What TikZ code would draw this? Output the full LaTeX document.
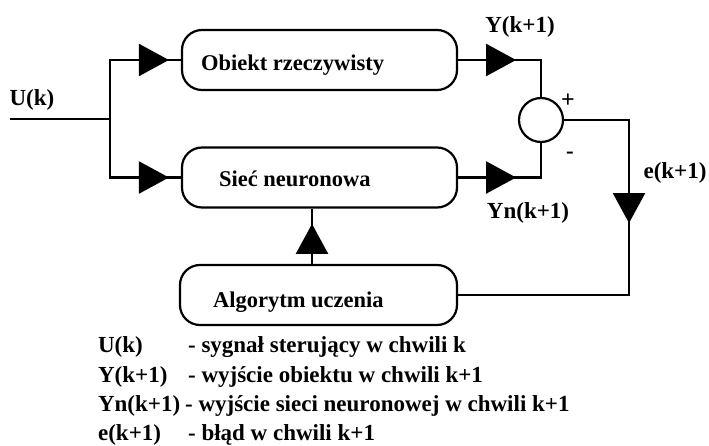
\documentclass[tikz,border=0pt]{standalone}
\usepackage{fontspec}
\setmainfont{Liberation Serif}
\usetikzlibrary{arrows.meta,decorations.markings}

\begin{document}
\begin{tikzpicture}[%
        x=1pt, y=-1pt,
        line width=2.2pt,
        font=\bfseries\fontsize{23}{26}\selectfont,
        blok/.style={draw, rounded corners=20pt, minimum height=60pt, inner sep=0pt},
        suma/.style={draw, circle, minimum size=44pt, inner sep=0pt},
        opis/.style={inner sep=0pt},
        tekst/.style={inner sep=0pt, anchor=base west, font=\bfseries\fontsize{22.5}{26}\selectfont},
        znak/.style={inner sep=0pt, font=\bfseries\fontsize{24}{28}\selectfont},
        strz/.style={postaction={decorate},
            decoration={markings, mark=at position #1 with {\arrow{Triangle[length=30pt,width=32pt]}}}}
        ]

        \useasboundingbox (0,0) rectangle (709,446);

        \node[blok, minimum width=275pt] (obiekt) at (319.5,60) {};
        \node[blok, minimum width=275pt] (siec) at (319.5,177.5) {};
        \node[blok, minimum width=277pt] (algorytm) at (318.5,295) {};
        \node[suma] (suma) at (541,120) {};

        \node[tekst] (tobiekt) at (200,71) {Obiekt rzeczywisty};
        \node[tekst] (tsiec) at (218,187) {Sieć neuronowa};
        \node[tekst] (talgorytm) at (212,307) {Algorytm uczenia};

        \coordinate (wej) at (10,119);
        \coordinate (rozg) at (110,119);
        \coordinate (wyj) at (629,120);

        \draw (wej) -- (rozg);
        \draw[strz=-12pt] (rozg) |- (obiekt.west);
        \draw[strz=-12pt] (rozg) |- (siec.west);
        \draw[strz=58pt] (obiekt.east) -| (suma.north);
        \draw[strz=58pt] (siec.east) -| (suma.south);
        \draw[strz=168pt] (suma.east) -- (wyj) |- (algorytm.east);
        \draw[strz=40pt] ([xshift=-6.5pt]algorytm.north) -- ([xshift=-6.5pt]algorytm.north |- siec.south);

        \node[opis] (uk) at (32,100) {U(k)};
        \node[opis] (yk) at (520,27) {Y(k+1)};
        \node[opis] (ynk) at (528,213) {Yn(k+1)};
        \node[opis] (ek) at (675,173) {e(k+1)};
        \node[znak] (plus) at (568,101) {+};
        \node[opis] (minus) at (570,155) {-};

        \node[opis, anchor=base west] (l1) at (97,352) {U(k)};
        \node[opis, anchor=base west] (o1) at (187,352) {- sygnał sterujący w chwili k};
        \node[opis, anchor=base west] (l2) at (97,382) {Y(k+1)};
        \node[opis, anchor=base west] (o2) at (187,382) {- wyjście obiektu w chwili k+1};
        \node[opis, anchor=base west] (l3) at (97,411) {Yn(k+1)};
        \node[opis, anchor=base west] (o3) at (184,411) {- wyjście sieci neuronowej w chwili k+1};
        \node[opis, anchor=base west] (l4) at (97,440) {e(k+1)};
        \node[opis, anchor=base west] (o4) at (187,440) {- błąd w chwili k+1};

\end{tikzpicture}
\end{document}
